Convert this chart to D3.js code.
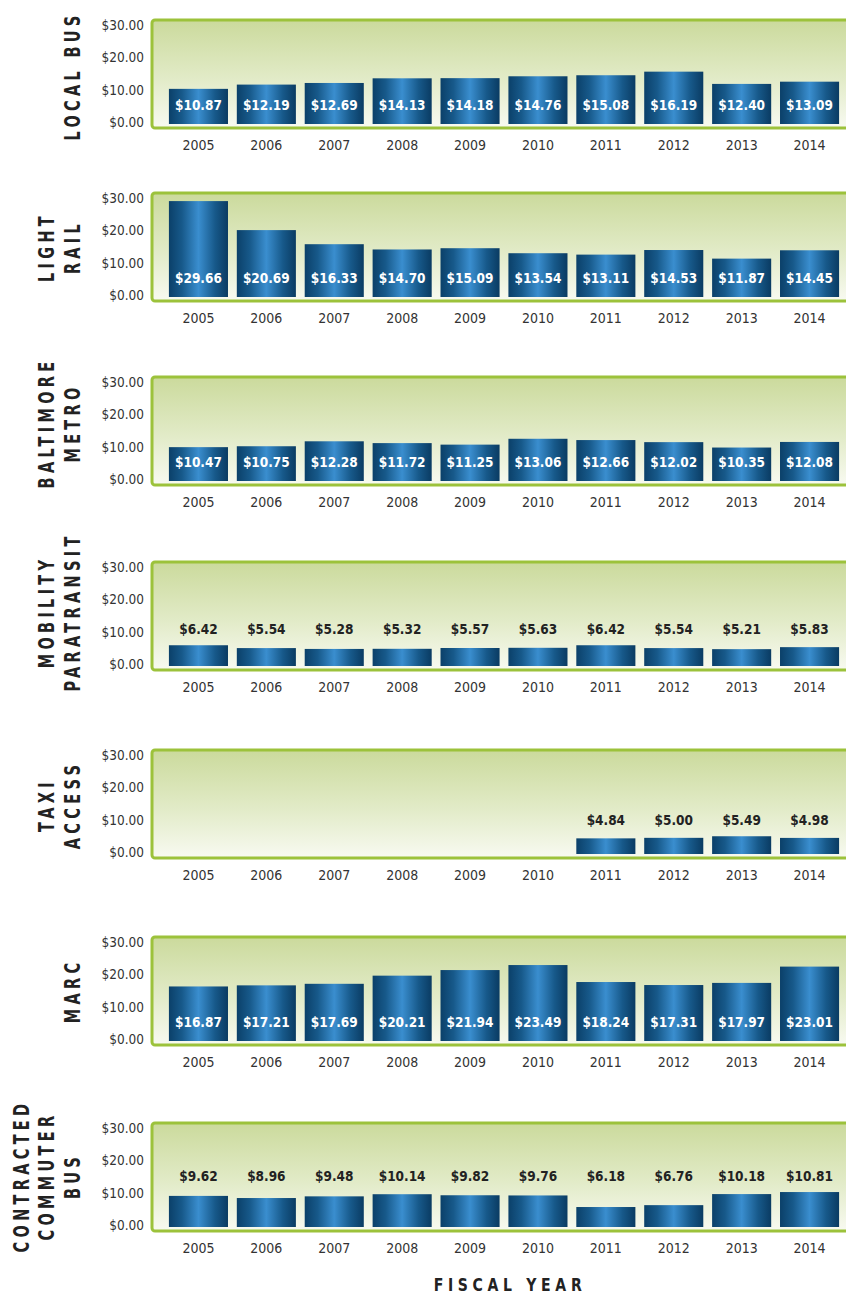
<!DOCTYPE html>
<html>
<head>
<meta charset="utf-8">
<script src="https://cdn.jsdelivr.net/npm/d3@7"></script>
<style>
  html, body { margin: 0; padding: 0; background: #ffffff; }
  svg { display: block; }
</style>
</head>
<body>
<svg id="chart" width="846" height="1296"></svg>
<script>
// Fiscal years on the x axis
const years = ["2005", "2006", "2007", "2008", "2009", "2010", "2011", "2012", "2013", "2014"];

// Cost per passenger trip, by mode (US dollars)
const localBus       = [10.87, 12.19, 12.69, 14.13, 14.18, 14.76, 15.08, 16.19, 12.40, 13.09];
const lightRail      = [29.66, 20.69, 16.33, 14.70, 15.09, 13.54, 13.11, 14.53, 11.87, 14.45];
const baltimoreMetro = [10.47, 10.75, 12.28, 11.72, 11.25, 13.06, 12.66, 12.02, 10.35, 12.08];
const mobility       = [6.42, 5.54, 5.28, 5.32, 5.57, 5.63, 6.42, 5.54, 5.21, 5.83];
const taxiAccess     = [null, null, null, null, null, null, 4.84, 5.00, 5.49, 4.98];
const marc           = [16.87, 17.21, 17.69, 20.21, 21.94, 23.49, 18.24, 17.31, 17.97, 23.01];
const contracted     = [9.62, 8.96, 9.48, 10.14, 9.82, 9.76, 6.18, 6.76, 10.18, 10.81];

// Mode titles (one entry per stacked line)
const modeTitles = [
  ["LOCAL BUS"],
  ["LIGHT", "RAIL"],
  ["BALTIMORE", "METRO"],
  ["MOBILITY", "PARATRANSIT"],
  ["TAXI", "ACCESS"],
  ["MARC"],
  ["CONTRACTED", "COMMUTER", "BUS"]
];
const modeValues = [localBus, lightRail, baltimoreMetro, mobility, taxiAccess, marc, contracted];

// Y axis ticks
const tickValues = [0, 10, 20, 30];
const tickLabels = ["$0.00", "$10.00", "$20.00", "$30.00"];
const xTitle = "FISCAL YEAR";

// Panel layout: bar baseline, title centre, value labels inside or above bars
const panelLayout = [
  { base: 124,  titleY: 76,   inside: true  },
  { base: 297,  titleY: 247,  inside: true  },
  { base: 481,  titleY: 423,  inside: true  },
  { base: 666,  titleY: 612,  inside: false },
  { base: 854,  titleY: 805,  inside: false },
  { base: 1041, titleY: 991,  inside: true  },
  { base: 1227, titleY: 1176, inside: false }
];

const svg = d3.select("#chart");
const defs = svg.append("defs");

// Plot background: pale green fading to near white
const bg = defs.append("linearGradient")
  .attr("id", "panelBg").attr("x1", 0).attr("y1", 0).attr("x2", 0).attr("y2", 1);
bg.append("stop").attr("offset", "0%").attr("stop-color", "#cbda9c");
bg.append("stop").attr("offset", "55%").attr("stop-color", "#e2ebc8");
bg.append("stop").attr("offset", "100%").attr("stop-color", "#f8faf1");

// Bars: cylindrical blue shading across the width
const barGrad = defs.append("linearGradient")
  .attr("id", "barGrad").attr("x1", 0).attr("y1", 0).attr("x2", 1).attr("y2", 0);
[["0%", "#0b4069"], ["22%", "#17598a"], ["50%", "#3a8ecf"], ["78%", "#17598a"], ["100%", "#0a3b62"]]
  .forEach(([o, c]) => barGrad.append("stop").attr("offset", o).attr("stop-color", c));

const x = d3.scaleBand()
  .domain(years)
  .range([164.5, 843.5])
  .paddingInner(0.13)
  .paddingOuter(0.065);

const frameLeft = 152;
const frameAbove = 104;
const frameBelow = 4;
const scaleSpan = 97;

const condensed = "'DejaVu Sans Condensed', 'DejaVu Sans', sans-serif";
const heavy = "'DejaVu Sans', sans-serif";

modeValues.forEach((vals, i) => {
  const L = panelLayout[i];
  const y = d3.scaleLinear().domain([0, 30]).range([L.base, L.base - scaleSpan]);
  const g = svg.append("g").attr("class", "panel");

  // Frame
  g.append("rect")
    .attr("x", frameLeft)
    .attr("y", L.base - frameAbove)
    .attr("width", 720)
    .attr("height", frameAbove + frameBelow)
    .attr("rx", 3)
    .attr("fill", "url(#panelBg)")
    .attr("stroke", "#9cc23b")
    .attr("stroke-width", 3);

  // Y tick labels
  g.selectAll(".ytick")
    .data(tickValues)
    .join("text")
    .attr("class", "ytick")
    .attr("x", 144)
    .attr("y", d => y(d) - 2)
    .attr("text-anchor", "end")
    .attr("dominant-baseline", "central")
    .attr("font-family", condensed)
    .attr("font-size", 13.5)
    .attr("fill", "#333")
    .text((d, k) => tickLabels[k]);

  const rows = years.map((yr, k) => ({ year: yr, value: vals[k] })).filter(d => d.value != null);

  // Bars
  g.selectAll(".bar")
    .data(rows)
    .join("rect")
    .attr("class", "bar")
    .attr("x", d => x(d.year))
    .attr("width", x.bandwidth())
    .attr("y", d => y(d.value))
    .attr("height", d => y(0) - y(d.value))
    .attr("fill", "url(#barGrad)");

  // Value labels
  const maxVal = d3.max(rows, d => d.value);
  g.selectAll(".val")
    .data(rows)
    .join("text")
    .attr("class", "val")
    .attr("x", d => x(d.year) + x.bandwidth() / 2)
    .attr("y", L.inside ? L.base - 19 : y(maxVal) - 16)
    .attr("text-anchor", "middle")
    .attr("dominant-baseline", "central")
    .attr("font-family", condensed)
    .attr("font-weight", "bold")
    .attr("font-size", 13.5)
    .attr("fill", L.inside ? "#ffffff" : "#222")
    .text(d => "$" + d.value.toFixed(2));

  // Year labels
  g.selectAll(".year")
    .data(years)
    .join("text")
    .attr("class", "year")
    .attr("x", d => x(d) + x.bandwidth() / 2)
    .attr("y", L.base + 21)
    .attr("text-anchor", "middle")
    .attr("dominant-baseline", "central")
    .attr("font-family", condensed)
    .attr("font-size", 14)
    .attr("fill", "#333")
    .text(d => d);

  // Rotated mode title, stacked lines ending at x = 72
  const lines = modeTitles[i];
  lines.forEach((line, k) => {
    const lx = 72 - (lines.length - 1 - k) * 25.5;
    g.append("text")
      .attr("transform", `translate(${lx},${L.titleY}) rotate(-90) scale(0.66,1)`)
      .attr("text-anchor", "middle")
      .attr("dominant-baseline", "central")
      .attr("font-family", heavy)
      .attr("font-weight", 900)
      .attr("font-size", 22)
      .attr("letter-spacing", 6.5)
      .attr("fill", "#222")
      .text(line);
  });
});

// X axis title
svg.append("text")
  .attr("transform", "translate(510,1285) scale(0.78,1)")
  .attr("text-anchor", "middle")
  .attr("dominant-baseline", "central")
  .attr("font-family", heavy)
  .attr("font-weight", 900)
  .attr("font-size", 18)
  .attr("letter-spacing", 6)
  .attr("fill", "#222")
  .text(xTitle);
</script>
</body>
</html>
